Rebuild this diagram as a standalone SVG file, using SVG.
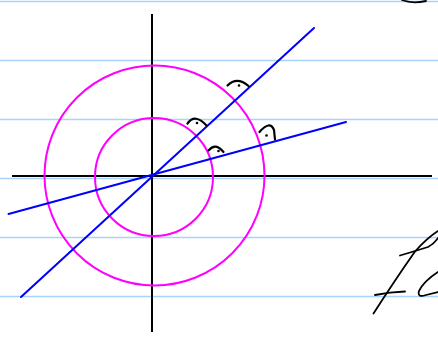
<svg xmlns="http://www.w3.org/2000/svg" width="438" height="338" viewBox="0 0 438 338">
<style>
.rule{stroke:#a9d3fb;stroke-width:1.3;fill:none}
.axis{stroke:#000;stroke-width:2;fill:none}
.circ{stroke:#ff00ff;stroke-width:2;fill:none}
.ray{stroke:#0000ff;stroke-width:2;fill:none;stroke-linecap:round}
.mark{stroke:#000;stroke-width:2.2;fill:none;stroke-linecap:round}
.ink{stroke:#000;stroke-width:1.8;fill:none;stroke-linecap:round;stroke-linejoin:round}
</style>
<rect width="438" height="338" fill="#fff"/>
<g id="paper">
<line class="rule" x1="0" y1="1.5" x2="438" y2="1.5"/>
<line class="rule" x1="0" y1="60.5" x2="438" y2="60.5"/>
<line class="rule" x1="0" y1="119.5" x2="438" y2="119.5"/>
<line class="rule" x1="0" y1="178.5" x2="438" y2="178.5"/>
<line class="rule" x1="0" y1="237.5" x2="438" y2="237.5"/>
<line class="rule" x1="0" y1="296.5" x2="438" y2="296.5"/>
</g>
<g id="axes">
<line class="axis" x1="152" y1="14" x2="152" y2="332"/>
<line class="axis" x1="12" y1="176" x2="432" y2="176"/>
<line class="axis" x1="397" y1="176" x2="432" y2="176" stroke-width="2.6"/>
</g>
<g id="circles">
<circle class="circ" cx="154" cy="177" r="59"/>
<circle class="circ" cx="154.5" cy="175.5" r="110"/>
</g>
<g id="lines">
<line class="ray" x1="21" y1="297" x2="314" y2="28"/>
<line class="ray" x1="8.5" y1="214" x2="346" y2="122"/>
</g>
<g id="marks">
<path class="mark" d="M227.5 85.5 Q237 76 248.5 86"/>
<circle cx="239" cy="85.5" r="1.3"/>
<path class="mark" d="M187.5 123.5 Q195 113 206.5 125.5"/>
<circle cx="197" cy="123" r="1.3"/>
<path class="mark" d="M208.5 150.5 Q215.5 142 223.5 152"/>
<circle cx="218.5" cy="151" r="1.3"/>
<path class="mark" d="M259.5 132 Q270 120 274 130 L275 139.5"/>
<circle cx="266.5" cy="135.5" r="1.3"/>
</g>
<g id="handwriting">
<path class="ink" d="M402 0 Q412 4 426 1" stroke-width="2.4"/>
<path class="ink" d="M373.5 313.5 Q395 280 415 251.5 Q427 238 438 231"/>
<path class="ink" d="M400 255.5 Q412 252 428 247 Q434 244 438 238"/>
<path class="ink" d="M375 295 Q390 292 405 291.5"/>
<path class="ink" d="M438 272 Q424 281 419 291 Q417 298 426 295 L438 292"/>
</g>
</svg>
